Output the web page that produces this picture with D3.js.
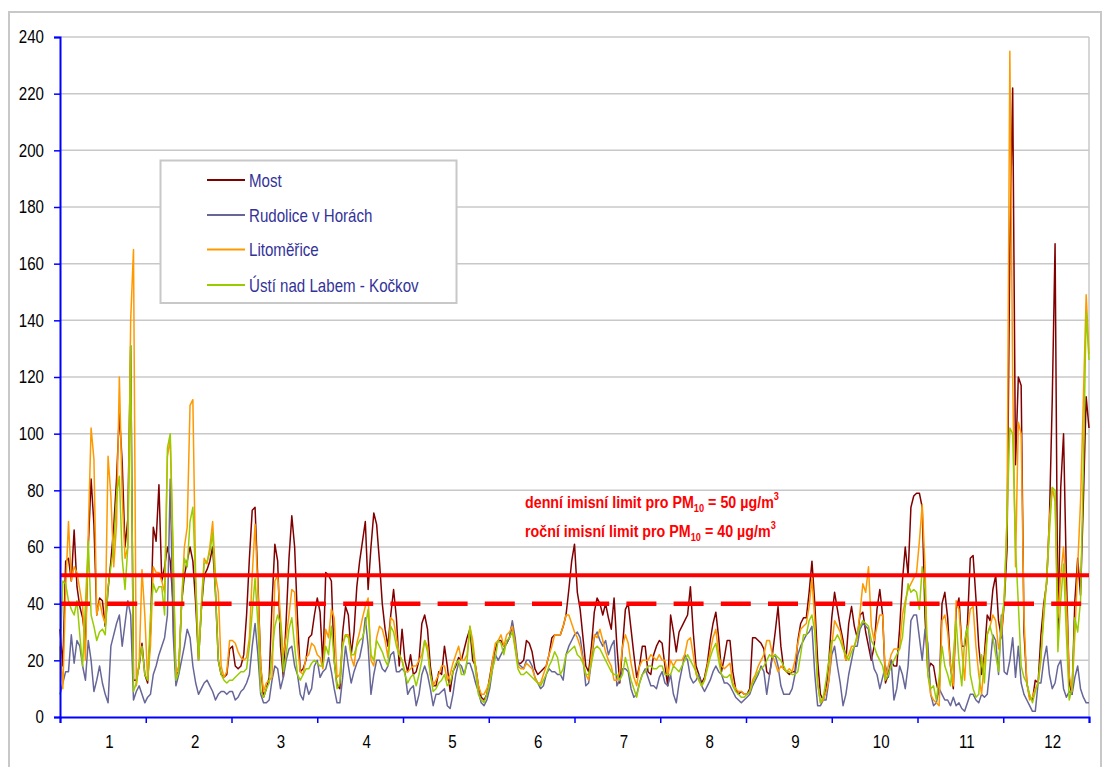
<!DOCTYPE html>
<html><head><meta charset="utf-8">
<script src="https://cdn.jsdelivr.net/npm/d3@7"></script>
<style>body{margin:0;background:#fff}svg{display:block}text{font-family:"Liberation Sans",Arial,sans-serif}</style>
</head><body><svg width="1108" height="767"></svg>
<script>
const monthLabels = ["1","2","3","4","5","6","7","8","9","10","11","12"];
const yTickValues = [0,20,40,60,80,100,120,140,160,180,200,220,240];
const seriesNames = ["Most","Rudolice v Horách","Litoměřice","Ústí nad Labem - Kočkov"];
const seriesColors = ["#800000","#666699","#ff9900","#99cc00"];
const dailyLimit = 50;
const annualLimit = 40;

const most = [
31,18,55,56,48,66,46,39,35,27, 60,84,68,36,42,41,32,45,55,67,
84,107,90,60,70,131,13,13,18,26, 15,12,30,67,62,82,48,53,60,55,
40,15,16,40,50,55,60,55,40,20, 38,50,52,55,60,44,20,15,14,15,
24,25,18,17,18,22,36,56,73,74, 48,18,7,10,14,40,61,55,25,14,
34,56,71,60,35,16,17,20,28,29, 36,42,37,18,51,50,48,20,11,10,
30,39,36,22,30,46,55,62,69,45, 60,72,68,55,40,31,25,36,45,35,
18,31,20,16,22,15,16,20,33,36, 31,18,11,11,16,15,25,18,9,16,
18,21,20,24,28,31,20,18,11,7, 6,8,14,20,24,27,27,25,26,28,
33,25,19,19,20,27,26,23,17,15, 16,17,18,22,28,29,29,29,32,36,
45,55,61,44,38,28,18,16,25,37, 42,40,36,40,35,31,42,25,12,25,
38,40,31,22,14,18,25,25,16,15, 22,25,27,26,18,11,36,30,23,30,
32,34,36,46,30,18,15,12,14,19, 27,33,37,28,16,21,27,27,16,10,
8,9,8,8,10,28,28,27,26,24, 16,15,22,30,39,25,17,16,15,16,
16,27,33,35,35,44,55,40,20,8, 6,10,20,35,44,38,32,27,20,33,
39,32,28,36,37,30,25,20,25,38, 45,36,12,15,20,18,18,31,48,60,
50,74,78,79,79,74,35,16,19,18, 12,8,40,44,35,18,10,38,42,25,
25,33,56,57,42,25,15,22,36,34, 45,50,34,28,40,59,166,222,89,120,
117,30,12,7,6,13,12,29,40,47, 70,112,167,29,81,100,50,12,8,41,
56,43,76,113,102];

const rudolice = [
8,12,16,16,29,19,27,25,18,13, 27,20,9,13,18,12,8,5,25,29,
33,36,25,33,41,36,6,9,11,8, 5,7,8,15,18,22,25,28,36,84,
30,11,15,20,25,31,28,18,12,8, 10,12,13,11,9,6,8,9,9,8,
9,9,6,7,9,10,12,15,25,33, 22,8,5,5,6,13,18,17,10,14,
20,24,25,18,15,8,6,12,8,10, 18,20,14,16,17,21,16,10,5,5,
14,25,18,12,16,19,21,26,35,25, 8,15,20,20,17,16,18,22,23,16,
16,17,16,8,10,11,4,8,15,18, 15,10,4,8,8,9,10,4,3,8,
15,19,18,15,19,19,16,12,9,5, 4,6,10,17,22,20,22,24,26,28,
34,28,19,18,17,20,20,18,14,12, 10,11,15,17,16,16,15,15,13,22,
25,27,29,30,28,21,11,12,20,28, 30,27,25,27,22,25,27,11,13,17,
17,16,10,7,8,12,15,17,14,11, 11,10,14,16,12,11,15,8,5,12,
17,22,20,14,12,13,15,11,9,11, 13,16,18,16,15,12,12,11,9,7,
6,5,6,7,8,11,13,15,18,16, 8,15,21,22,18,11,8,8,8,10,
15,22,25,27,29,30,32,15,4,4, 6,6,13,22,25,18,12,4,8,15,
20,25,25,31,33,32,31,22,17,15, 10,14,18,14,20,6,10,18,15,10,
18,34,36,36,28,20,31,26,8,4, 5,10,8,6,6,4,7,4,5,3,
2,5,8,8,6,5,8,7,8,18, 29,27,15,36,16,15,20,28,14,25,
12,8,6,4,2,2,12,12,20,25, 15,10,12,18,20,10,7,9,8,14,
18,10,7,5,5];

const litomerice = [
25,10,45,69,48,53,51,45,39,20, 65,102,91,36,41,36,33,92,78,53,
68,120,78,56,60,140,165,11,19,52, 36,13,25,53,51,51,48,44,92,98,
55,15,18,40,60,67,110,112,48,21, 40,56,54,60,69,50,44,18,14,16,
27,27,26,23,21,20,21,28,50,68, 45,18,9,12,13,14,48,50,35,22,
28,36,45,44,25,16,15,21,22,26, 25,22,21,17,31,28,38,35,14,15,
26,29,29,21,18,26,30,35,39,42, 20,18,28,32,31,27,21,35,34,28,
22,20,16,16,17,18,18,20,22,27, 25,15,11,13,15,18,18,13,15,19,
22,25,20,20,22,32,27,18,11,8, 8,10,13,20,26,27,29,25,29,30,
32,26,18,17,17,19,18,17,14,12, 12,15,18,22,25,29,29,29,32,36,
36,33,30,28,25,20,15,13,22,29, 28,31,27,23,20,18,13,13,16,25,
29,26,19,14,11,18,20,20,20,22, 21,20,22,20,20,15,20,18,20,20,
20,22,27,28,22,15,13,11,13,18, 23,28,31,22,18,17,18,19,12,10,
9,9,8,8,9,13,15,18,20,22, 27,27,22,19,16,18,17,16,17,16,
20,26,31,32,33,39,49,34,12,5, 6,9,13,25,34,32,30,25,20,22,
25,25,28,37,47,44,53,32,27,32, 36,36,14,18,22,24,24,24,36,41,
45,47,49,51,62,75,53,15,8,6, 5,4,34,36,30,18,11,41,38,24,
13,30,38,39,25,15,8,20,29,32, 36,34,24,29,41,70,235,120,53,104,
100,35,12,6,7,10,12,20,38,48, 70,81,76,35,50,60,41,15,9,29,
53,76,112,149,128];

const usti = [
20,48,47,41,38,36,41,29,18,40, 62,36,32,27,30,31,29,46,53,60,
78,85,56,45,60,131,9,12,19,25, 15,13,36,47,44,46,46,36,95,100,
60,13,16,40,56,53,69,74,48,20, 38,54,55,58,65,44,20,15,13,12,
13,13,14,15,16,16,17,25,37,49, 33,9,7,10,12,22,32,36,33,16,
22,31,35,25,15,13,15,17,17,19, 20,19,18,18,25,22,32,20,10,12,
25,29,28,22,22,25,27,28,32,38, 22,20,27,25,23,20,18,32,30,25,
22,20,15,12,14,15,11,15,20,27, 23,15,9,10,12,13,15,11,12,16,
19,20,15,15,20,32,24,16,8,6, 5,8,12,17,21,27,26,22,27,28,
30,24,17,15,15,16,15,14,13,12, 11,13,15,18,20,23,21,15,17,22,
23,24,25,22,21,19,15,15,19,24, 25,24,22,20,18,16,15,15,13,15,
21,17,13,10,7,12,15,16,18,18, 17,17,18,18,15,15,15,18,17,16,
18,20,22,20,18,16,13,11,13,17, 21,24,26,20,15,14,14,15,11,9,
8,7,7,8,9,12,14,16,17,18, 20,22,21,22,21,20,18,16,16,15,
15,16,22,29,29,34,36,30,12,5, 7,13,20,27,27,29,27,24,22,20,
23,25,29,32,34,33,32,27,25,22, 20,18,13,15,18,20,22,24,28,39,
47,44,45,44,38,53,45,15,10,11, 6,14,25,18,15,11,22,34,20,11,
27,32,15,10,7,8,22,12,29,32, 28,22,16,34,41,70,102,100,60,40,
18,14,12,8,5,9,12,22,35,48, 65,81,80,23,41,54,29,6,10,35,
30,41,88,143,126];

const seriesData = [most, rudolice, litomerice, usti];

const SX = 0.84;
const svg = d3.select("svg");
const N = most.length;
const x = d3.scaleLinear().domain([0, N - 1]).range([60, 1089]);
const y = d3.scaleLinear().domain([0, 240]).range([717, 37]);
const xm = d3.scaleLinear().domain([0, 12]).range([60, 1089]);

// outer frame
svg.append("rect").attr("x", 9).attr("y", 12).attr("width", 1092).attr("height", 790)
  .attr("fill", "none").attr("stroke", "#c8c8c8").attr("stroke-width", 2);

// grid
svg.append("g").selectAll("line").data(yTickValues.filter(v => v > 0)).join("line")
  .attr("x1", 60).attr("x2", 1089).attr("y1", d => y(d)).attr("y2", d => y(d))
  .attr("stroke", "#c8c8c8").attr("stroke-width", 1.5);
svg.append("line").attr("x1", 1089).attr("x2", 1089).attr("y1", y(240)).attr("y2", y(0))
  .attr("stroke", "#c8c8c8").attr("stroke-width", 1.5);

// series
const line = d3.line().x((d, i) => x(i)).y(d => y(d));
svg.append("g").selectAll("path").data(seriesData).join("path")
  .attr("d", line).attr("fill", "none")
  .attr("stroke", (d, i) => seriesColors[i]).attr("stroke-width", 1.5)
  .attr("stroke-linejoin", "round");

// limit lines
const limLine = v => d3.line().x(d => x(d)).y(() => y(v))([0, N - 1]);
svg.append("path").attr("d", limLine(dailyLimit)).attr("stroke", "#ff0000")
  .attr("stroke-width", 4).attr("fill", "none");
svg.append("path").attr("d", limLine(annualLimit)).attr("stroke", "#ff0000")
  .attr("stroke-width", 4.5).attr("fill", "none").attr("stroke-dasharray", "30,17.2");

// y axis
const gy = svg.append("g").attr("transform", "translate(60,0)")
  .call(d3.axisLeft(y).tickValues(yTickValues).tickSize(6).tickFormat(d3.format("d")));
gy.attr("font-size", 18).attr("font-family", '"Liberation Sans",Arial,sans-serif');
gy.select(".domain").attr("stroke", "#0000ff").attr("stroke-width", 2);
gy.selectAll(".tick line").attr("stroke", "#0000ff").attr("stroke-width", 1.5);
gy.selectAll(".tick text").attr("x", -16 / SX).attr("transform", `scale(${SX},1)`).attr("fill", "#000");

// x axis
const gx = svg.append("g").attr("transform", "translate(0,717)")
  .call(d3.axisBottom(xm).tickValues(d3.range(13)).tickSize(6).tickFormat(""));
gx.select(".domain").attr("stroke", "#0000ff").attr("stroke-width", 2);
gx.selectAll(".tick line").attr("stroke", "#0000ff").attr("stroke-width", 1.5);

const gxl = svg.append("g").attr("transform", "translate(6,717)")
  .call(d3.axisBottom(xm).tickValues(d3.range(12).map(i => i + 0.5)).tickSize(0)
    .tickFormat((d, i) => monthLabels[i]));
gxl.attr("font-size", 18).attr("font-family", '"Liberation Sans",Arial,sans-serif');
gxl.select(".domain").remove();
gxl.selectAll(".tick text").attr("y", 18).attr("transform", `scale(${SX},1)`).attr("fill", "#000");

// legend
const lg = svg.append("g");
lg.append("rect").attr("x", 160.5).attr("y", 160.5).attr("width", 296).attr("height", 142.5)
  .attr("fill", "#fff").attr("stroke", "#c8c8c8").attr("stroke-width", 2);
const rowsY = [180, 215, 249.5, 285];
const items = lg.selectAll("g.item").data(seriesNames).join("g").attr("class", "item")
  .attr("transform", (d, i) => `translate(207,${rowsY[i]})`);
items.append("line").attr("x1", 0).attr("x2", 38).attr("stroke", (d, i) => seriesColors[i]).attr("stroke-width", 2);
items.append("text").attr("transform", `translate(42,6.5) scale(${SX},1)`)
  .attr("font-size", 18).attr("fill", "#333399").text(d => d);

// annotations
function note(yb, label, val) {
  const t = svg.append("text").attr("transform", `translate(525,${yb}) scale(${SX},1)`)
    .attr("font-size", 17).attr("font-weight", "bold").attr("fill", "#ff0000");
  t.append("tspan").text(label + " pro PM");
  t.append("tspan").attr("font-size", 11).attr("dy", 4).text("10");
  t.append("tspan").attr("dy", -4).text(" = " + val + " µg/m");
  t.append("tspan").attr("font-size", 11).attr("dy", -8).text("3");
}
note(508, "denní imisní limit", dailyLimit);
note(537, "roční imisní limit", annualLimit);
</script></body></html>
